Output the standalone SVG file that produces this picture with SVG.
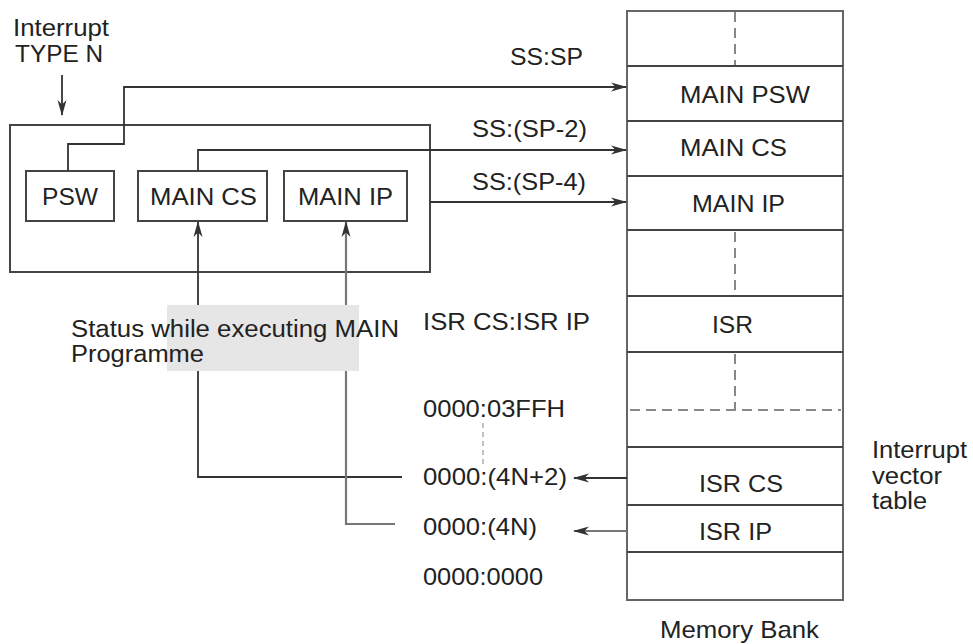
<svg xmlns="http://www.w3.org/2000/svg" width="973" height="644" viewBox="0 0 973 644">
  <style>
    text { font-family: "Liberation Sans", Arial, sans-serif; font-size: 24px; fill: #222; }
    text.stack { font-size: 23px; }
    .box { fill: none; stroke: #444; stroke-width: 2; }
    .bank { fill: none; stroke: #666; stroke-width: 2; }
    .div { stroke: #444; stroke-width: 1.8; }
    .dash { stroke: #888; stroke-width: 2; stroke-dasharray: 10 6; fill: none; }
    .wire { fill: none; stroke: #333; stroke-width: 1.8; }
    .wire-g { fill: none; stroke: #777; stroke-width: 2.2; }
    .fine { stroke: #999; stroke-width: 1.2; stroke-dasharray: 5 4; }
  </style>
  <defs>
    <marker id="arrow" viewBox="0 0 16 10" refX="15" refY="5" markerWidth="16" markerHeight="10" markerUnits="userSpaceOnUse" orient="auto">
      <path d="M0,0.5 L16,5 L0,9.5 L4.5,5 z" fill="#333"/>
    </marker>
  </defs>
  <rect width="973" height="644" fill="#fff"/>

  <!-- labels at top left -->
  <g id="interrupt-label">
    <text class="stack" x="13" y="36" textLength="96" lengthAdjust="spacingAndGlyphs">Interrupt</text>
    <text class="stack" x="15" y="62" textLength="88" lengthAdjust="spacingAndGlyphs">TYPE N</text>
  </g>

  <!-- CPU register state -->
  <g id="cpu-status">
    <rect class="box" x="10" y="125" width="420" height="147"/>
  </g>
  <g id="reg-psw">
    <rect class="box" x="26" y="171" width="88" height="50"/>
    <text x="42" y="205" textLength="56" lengthAdjust="spacingAndGlyphs">PSW</text>
  </g>
  <g id="reg-cs">
    <rect class="box" x="138" y="171" width="129" height="50"/>
    <text x="150" y="205" textLength="107" lengthAdjust="spacingAndGlyphs">MAIN CS</text>
  </g>
  <g id="reg-ip">
    <rect class="box" x="284" y="171" width="123" height="50"/>
    <text x="298" y="205" textLength="95" lengthAdjust="spacingAndGlyphs">MAIN IP</text>
  </g>

  <!-- memory bank stack -->
  <g id="memory-bank">
    <rect class="bank" x="627" y="11" width="216" height="589"/>
    <line class="div" x1="627" y1="66" x2="843" y2="66"/>
    <line class="div" x1="627" y1="121" x2="843" y2="121"/>
    <line class="div" x1="627" y1="176" x2="843" y2="176"/>
    <line class="div" x1="627" y1="230" x2="843" y2="230"/>
    <line class="div" x1="627" y1="296" x2="843" y2="296"/>
    <line class="div" x1="627" y1="352" x2="843" y2="352"/>
    <line class="div" x1="627" y1="447" x2="843" y2="447"/>
    <line class="div" x1="627" y1="505" x2="843" y2="505"/>
    <line class="div" x1="627" y1="552" x2="843" y2="552"/>
    <line class="dash" x1="735" y1="12" x2="735" y2="65"/>
    <line class="dash" x1="735" y1="232" x2="735" y2="295"/>
    <line class="dash" x1="735" y1="354" x2="735" y2="410"/>
    <line class="dash" x1="630" y1="410" x2="841" y2="410"/>
    <text x="680" y="103" textLength="130" lengthAdjust="spacingAndGlyphs">MAIN PSW</text>
    <text x="680" y="156" textLength="107" lengthAdjust="spacingAndGlyphs">MAIN CS</text>
    <text x="692" y="212" textLength="93" lengthAdjust="spacingAndGlyphs">MAIN IP</text>
    <text x="712" y="333" textLength="41" lengthAdjust="spacingAndGlyphs">ISR</text>
    <text x="699" y="492" textLength="84" lengthAdjust="spacingAndGlyphs">ISR CS</text>
    <text x="699" y="540" textLength="73" lengthAdjust="spacingAndGlyphs">ISR IP</text>
    <text x="660" y="638" textLength="159" lengthAdjust="spacingAndGlyphs">Memory Bank</text>
  </g>

  <g id="ivt-label">
    <text class="stack" x="872" y="458" textLength="95" lengthAdjust="spacingAndGlyphs">Interrupt</text>
    <text class="stack" x="872" y="484" textLength="70" lengthAdjust="spacingAndGlyphs">vector</text>
    <text class="stack" x="872" y="509" textLength="55" lengthAdjust="spacingAndGlyphs">table</text>
  </g>

  <!-- connectors -->
  <g id="connectors">
    <path class="wire" d="M62,75 V115" marker-end="url(#arrow)"/>
    <path class="wire" d="M68,171 V144 H124 V87 H626" marker-end="url(#arrow)"/>
    <path class="wire" d="M198,171 V150 H626" marker-end="url(#arrow)"/>
    <path class="wire" d="M430,202 H626" marker-end="url(#arrow)"/>
    <path class="wire" d="M402,477 H198 V222" marker-end="url(#arrow)"/>
    <path class="wire-g" d="M395,524 H346 V222" marker-end="url(#arrow)"/>
    <path class="wire" d="M627,478 H574" marker-end="url(#arrow)"/>
    <path class="wire-g" d="M627,531 H574" marker-end="url(#arrow)"/>
    <line class="fine" x1="483" y1="423" x2="483" y2="466"/>
  </g>

  <!-- caption panel over the wires -->
  <g id="status-caption">
    <rect x="167" y="305" width="192" height="66" fill="#e6e6e6"/>
    <text class="stack" x="71" y="337" textLength="328" lengthAdjust="spacingAndGlyphs">Status while executing MAIN</text>
    <text class="stack" x="71" y="362" textLength="133" lengthAdjust="spacingAndGlyphs">Programme</text>
  </g>

  <!-- address labels -->
  <g id="addresses">
    <text x="510" y="65" textLength="73" lengthAdjust="spacingAndGlyphs">SS:SP</text>
    <text x="472" y="137" textLength="115" lengthAdjust="spacingAndGlyphs">SS:(SP-2)</text>
    <text x="472" y="190" textLength="114" lengthAdjust="spacingAndGlyphs">SS:(SP-4)</text>
    <text x="423" y="330" textLength="167" lengthAdjust="spacingAndGlyphs">ISR CS:ISR IP</text>
    <text x="423" y="417" textLength="142" lengthAdjust="spacingAndGlyphs">0000:03FFH</text>
    <text x="423" y="485" textLength="144" lengthAdjust="spacingAndGlyphs">0000:(4N+2)</text>
    <text x="423" y="535" textLength="114" lengthAdjust="spacingAndGlyphs">0000:(4N)</text>
    <text x="423" y="585" textLength="120" lengthAdjust="spacingAndGlyphs">0000:0000</text>
  </g>
</svg>
